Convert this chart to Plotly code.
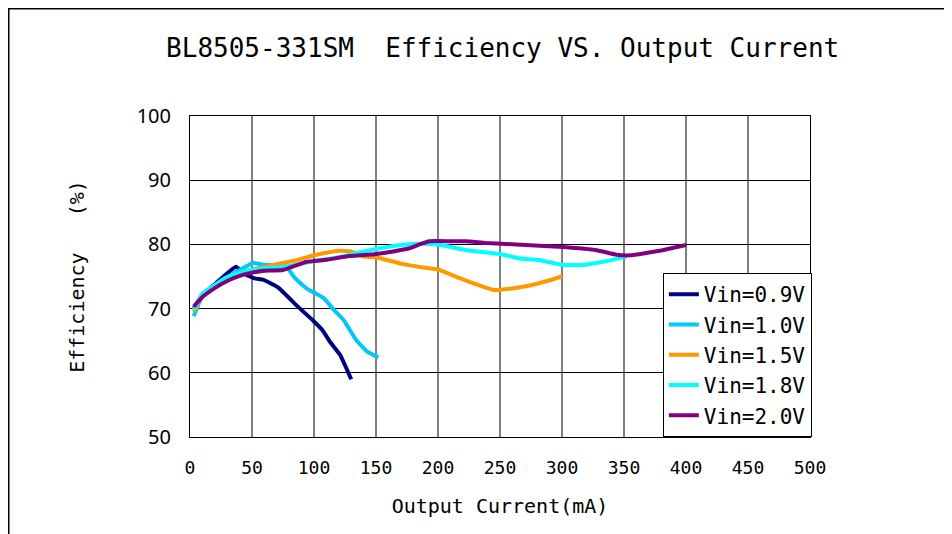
import plotly.graph_objects as go

# ---- data ----
names = ["Vin=0.9V", "Vin=1.0V", "Vin=1.5V", "Vin=1.8V", "Vin=2.0V"]
colors = ["#000080", "#00C8F8", "#FF9900", "#00FFFF", "#800080"]

x09 = [3, 10, 20, 30, 37, 44, 52, 59, 71, 87, 100, 107, 113, 121, 130]
y09 = [70.0, 72.2, 73.8, 75.5, 76.5, 75.4, 74.7, 74.5, 73.3, 70.3, 68.0, 66.6, 64.8, 62.8, 59.0]

x10 = [3, 10, 20, 30, 40, 51, 60, 68, 77, 84, 90, 95, 100, 108, 116, 124, 134, 143, 152]
y10 = [68.8, 72.0, 73.5, 74.8, 76.0, 77.1, 76.8, 76.8, 76.7, 74.9, 73.8, 73.0, 72.5, 71.6, 69.8, 68.2, 65.1, 63.3, 62.4]

x15 = [3, 10, 20, 30, 40, 50, 60, 72, 85, 100, 110, 121, 130, 140, 150, 170, 188, 200, 218, 235, 245, 258, 274, 288, 300]
y15 = [69.5, 72.0, 73.5, 74.8, 75.5, 76.1, 76.5, 77.0, 77.5, 78.3, 78.7, 79.0, 78.9, 78.1, 78.0, 77.0, 76.4, 76.1, 74.7, 73.5, 72.9, 73.1, 73.6, 74.3, 75.0]

x18 = [3, 10, 20, 30, 40, 50, 60, 75, 90, 100, 120, 140, 156, 170, 188, 202, 223, 250, 266, 280, 301, 317, 333, 352]
y18 = [69.8, 72.3, 73.7, 74.9, 75.6, 76.0, 76.3, 76.5, 77.0, 77.4, 78.0, 78.9, 79.5, 79.9, 80.1, 79.9, 79.1, 78.5, 77.8, 77.6, 76.8, 76.8, 77.3, 78.1]

x20 = [3, 10, 20, 30, 40, 50, 60, 75, 94, 110, 126, 150, 169, 177, 185, 193, 210, 223, 239, 263, 301, 328, 344, 355, 379, 400]
y20 = [70.3, 71.8, 73.2, 74.3, 75.1, 75.6, 75.9, 76.0, 77.3, 77.6, 78.1, 78.5, 79.1, 79.4, 80.0, 80.5, 80.5, 80.5, 80.2, 80.0, 79.6, 79.1, 78.4, 78.3, 79.0, 79.9]

xs = [x09, x10, x15, x18, x20]
ys = [y09, y10, y15, y18, y20]

x_ticks = [0, 50, 100, 150, 200, 250, 300, 350, 400, 450, 500]
y_ticks = [50, 60, 70, 80, 90, 100]

fig = go.Figure()
for i, (n, c) in enumerate(zip(names, colors)):
    fig.add_trace(go.Scatter(x=xs[i], y=ys[i], mode="lines", name=n,
                             legendgroup=n,
                             line=dict(color=c, width=4, shape="spline", smoothing=0.3)))

mono = "DejaVu Sans Mono"
W, H = 944, 526
fig.update_layout(
    width=W, height=H,
    paper_bgcolor="white", plot_bgcolor="white",
    margin=dict(l=182, r=142, t=108, b=97),
    title=dict(text="BL8505-331SM\u00a0\u00a0Efficiency\u00a0VS.\u00a0Output\u00a0Current",
               x=0.524, xanchor="center", y=1 - 40 / H, yanchor="middle",
               font=dict(family=mono, size=26, color="black")),
    showlegend=True,
    legend=dict(x=1.003, y=0, xanchor="right", yanchor="bottom",
                bgcolor="white", bordercolor="black", borderwidth=1,
                font=dict(family=mono, size=21, color="black"),
                tracegroupgap=0),
    xaxis=dict(range=[0, 500], tickvals=x_ticks, showgrid=True,
               gridcolor="#808080", gridwidth=1.5,
               showline=True, linecolor="black", linewidth=1, mirror=True,
               ticks="", ticklabelstandoff=14, zeroline=False,
               tickfont=dict(family=mono, size=18, color="black"),
               title=dict(text="Output\u00a0Current(mA)", standoff=22,
                          font=dict(family=mono, size=20, color="black"))),
    yaxis=dict(range=[50, 100], tickvals=y_ticks, showgrid=True,
               gridcolor="black", gridwidth=1,
               showline=True, linecolor="black", linewidth=1, mirror=True,
               ticks="", ticklabelstandoff=14, zeroline=False,
               tickfont=dict(family="Noto Sans", size=20, color="black"),
               title=dict(text="\u00a0Efficiency\u00a0\u00a0\u00a0(%)", standoff=46,
                          font=dict(family=mono, size=20, color="black"))),
)

# figure frame lines (top and left) along the figure edge
fig.add_shape(type="line", xref="paper", yref="paper",
              x0=-182 / 620, x1=(W - 182) / 620, y0=1 + 108 / 321, y1=1 + 108 / 321,
              line=dict(color="black", width=3))
fig.add_shape(type="line", xref="paper", yref="paper",
              x0=-182 / 620, x1=-182 / 620, y0=1 + 108 / 321, y1=-97 / 321,
              line=dict(color="black", width=3))

fig.write_html("out.html")
